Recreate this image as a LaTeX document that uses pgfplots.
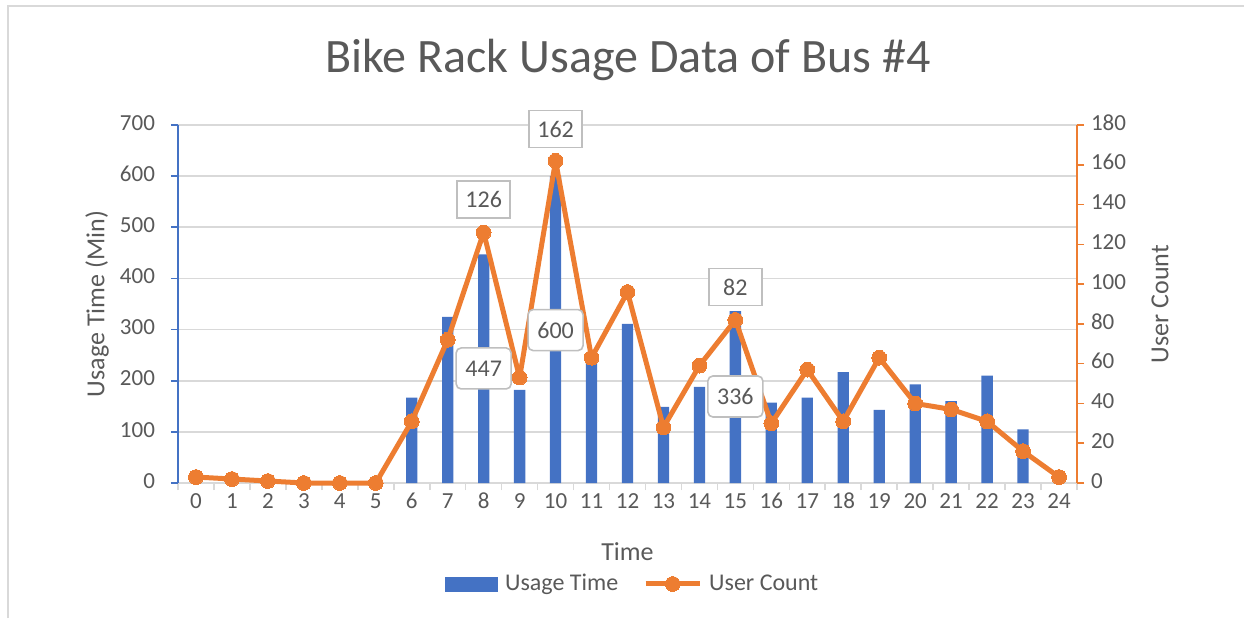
\documentclass[border=0pt]{standalone}
\usepackage{pgfplots}
\pgfplotsset{compat=1.18}
\usepackage{fontspec}
\setmainfont{Carlito}
\definecolor{cblue}{HTML}{4472C4}
\definecolor{corange}{HTML}{ED7D31}
\definecolor{ctext}{HTML}{595959}
\definecolor{cgrid}{HTML}{D9D9D9}
\definecolor{cbox}{HTML}{BFBFBF}
\pgfplotsset{
  mylinelegend/.style={legend image code/.code={\draw[##1, mark repeat=2, mark phase=2] plot coordinates {(0pt,0pt) (13.5pt,0pt) (27pt,0pt)};}},
  mybarlegend/.style={legend image code/.code={\fill[cblue] (0pt,-3.5pt) rectangle (26pt,3.5pt);}},
  mybase/.style={
    at={(89pt,67.5pt)}, anchor=south west,
    scale only axis, width=449.5pt, height=179pt,
    xmin=-0.5, xmax=24.5,
    /pgf/number format/assume math mode=true,
    tick label style={font=\fontsize{11.5pt}{13pt}\selectfont, text=ctext},
    typeset ticklabels with strut,
    tick align=outside, major tick length=3.5pt,
  }
}
\begin{document}
\begin{tikzpicture}
\path[use as bounding box] (0,0) rectangle (622pt,309pt);
\draw[cgrid, line width=0.8pt] (4pt,0) -- (4pt,306pt) -- (622pt,306pt);
\node[text=ctext, font=\fontsize{24pt}{28pt}\selectfont] at (314pt,279pt) {Bike Rack Usage Data of Bus \#4};
\begin{axis}[
  mybase,
  ymin=0, ymax=700,
  ytick={0,100,...,700},
  axis y line*=left, axis x line*=bottom,
  y axis line style={cblue, line width=0.8pt, -},
  x axis line style={cgrid, line width=0.8pt, -},
  ytick style={cblue, line width=0.8pt},
  yticklabel style={xshift=-4.5pt},
  ymajorgrids, grid style={cgrid, line width=0.8pt},
  xtick={-0.5,0.5,...,24.5}, xticklabels={},
  xtick style={cgrid, line width=0.8pt},
  extra x ticks={0,1,...,24},
  extra x tick style={major tick length=0pt},
  ylabel={Usage Time (Min)},
  every axis y label/.style={at={(axis description cs:-0.0901,0.5)}, rotate=90, anchor=center,
    font=\fontsize{13pt}{15pt}\selectfont, text=ctext},
  xlabel={Time},
  every axis x label/.style={at={(axis description cs:0.5,-0.1927)}, anchor=center,
    font=\fontsize{13pt}{15pt}\selectfont, text=ctext},
  ybar, bar width=5.65pt,
]
\addplot[fill=cblue, draw=none] coordinates {
(0,0) (1,0) (2,0) (3,0) (4,0) (5,0) (6,167) (7,325) (8,447) (9,182)
(10,600) (11,250) (12,311) (13,149) (14,188) (15,336) (16,157) (17,167)
(18,217) (19,143) (20,193) (21,160) (22,210) (23,105) (24,0)};
\end{axis}
\begin{axis}[
  mybase,
  clip=false,
  ymin=0, ymax=180,
  ytick={0,20,...,180},
  axis y line*=right, axis x line=none,
  y axis line style={corange, line width=0.8pt, -},
  ytick style={corange, line width=0.8pt},
  ylabel={User Count},
  every axis y label/.style={at={(axis description cs:1.0923,0.5)}, rotate=90, anchor=center,
    font=\fontsize{13pt}{15pt}\selectfont, text=ctext},
  legend style={at={(axis description cs:0.507,-0.282)}, anchor=center, draw=none, fill=none,
    legend columns=2, font=\fontsize{12pt}{14pt}\selectfont, text=ctext,
    /tikz/every odd column/.append style={column sep=1.5pt},
    /tikz/every even column/.append style={column sep=10.5pt}},
  legend cell align=left,
]
\addlegendimage{mybarlegend}
\addlegendentry{Usage Time}
\addplot[corange, line width=2.5pt, line join=round, mark=*, mark size=3.7pt,
  mark options={fill=corange, draw=corange, line width=0pt}, mylinelegend]
 coordinates {
(0,3) (1,2) (2,1) (3,0) (4,0) (5,0) (6,31) (7,72) (8,126) (9,53)
(10,162) (11,63) (12,96) (13,28) (14,59) (15,82) (16,30) (17,57)
(18,31) (19,63) (20,40) (21,37) (22,31) (23,16) (24,3)};
\addlegendentry{User Count}
\tikzset{lbl/.style={fill=white, draw=cbox, line width=0.8pt, text=ctext,
  font=\fontsize{12pt}{14pt}\selectfont, minimum width=26.5pt, minimum height=18.5pt, inner sep=1pt},
  rlbl/.style={lbl, rounded corners=2.5pt, minimum width=27.5pt, minimum height=20.5pt}}
\node[lbl] at (axis cs:8,142.5) {126};
\node[lbl] at (axis cs:10,178) {162};
\node[lbl] at (axis cs:15,98.5) {82};
\node[rlbl] at (axis cs:8,57.6) {447};
\node[rlbl] at (axis cs:10,76.9) {600};
\node[rlbl] at (axis cs:15,43.5) {336};
\end{axis}
\end{tikzpicture}
\end{document}
